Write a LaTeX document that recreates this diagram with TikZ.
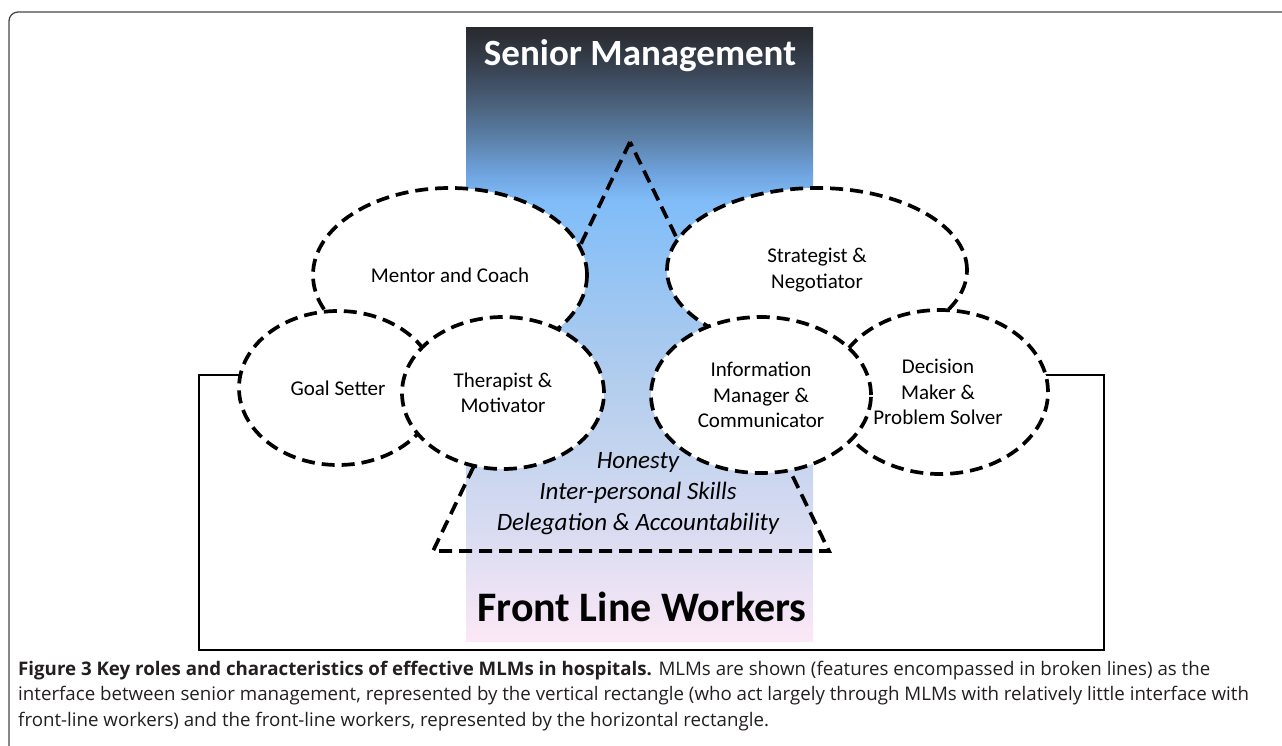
\documentclass[tikz,border=0pt]{standalone}
\usepackage{fontspec}
\setmainfont{Carlito}
\newfontfamily\capfont{Open Sans}
\usetikzlibrary{shapes.geometric}
\definecolor{g0}{RGB}{40,42,46}
\definecolor{g1}{RGB}{55,65,80}
\definecolor{g2}{RGB}{75,98,125}
\definecolor{g3}{RGB}{92,130,170}
\definecolor{g4}{RGB}{112,165,225}
\definecolor{g5}{RGB}{128,188,248}
\definecolor{g6}{RGB}{145,195,245}
\definecolor{g7}{RGB}{170,202,238}
\definecolor{g8}{RGB}{196,212,238}
\definecolor{g9}{RGB}{222,222,242}
\definecolor{g10}{RGB}{252,232,246}
\definecolor{framegray}{RGB}{70,70,70}
\definecolor{captext}{RGB}{35,31,32}
% path bbox maps to 25bp..75bp; y(px) -> 25+50*(641-y)/613
\pgfdeclareverticalshading{smgrad}{100bp}{%
color(0bp)=(g10); color(25bp)=(g10); color(32.42bp)=(g9); color(40.58bp)=(g8);
color(48.74bp)=(g7); color(56.08bp)=(g6); color(60.97bp)=(g5); color(63.01bp)=(g4);
color(65.87bp)=(g3); color(68.72bp)=(g2); color(71.98bp)=(g1); color(75bp)=(g0); color(100bp)=(g0)}
\tikzset{
  dline/.style={draw=black, line width=3.7pt, dash pattern=on 13pt off 7pt},
  role/.style={ellipse, dline, fill=white, inner sep=0pt, align=center,
    font=\fontsize{21}{25.5}\selectfont},
  roletext/.style={align=center, font=\fontsize{21}{25.5}\selectfont},
  quality/.style={align=center, font=\fontsize{25}{31}\selectfont\itshape},
  caption/.style={anchor=base west, inner sep=0pt, text=captext,
    font=\capfont\fontsize{18.7}{21}\selectfont},
}
\begin{document}
\begin{tikzpicture}[x=1pt,y=-1pt]
\useasboundingbox (0,0) rectangle (1282,746);
% outer frame (top-left corner visible)
\draw[framegray, line width=1.3pt, rounded corners=9pt] (9,760) -- (9,12) -- (1290,12);
% horizontal rectangle: front-line workers
\coordinate (hrTL) at (199,375);
\coordinate (hrBR) at (1104,650);
\draw[line width=2.6pt] (hrTL) rectangle (hrBR);
% vertical rectangle: senior management
\shade[shading=smgrad] (466,28) rectangle (813,641);
% triangle
\coordinate (tp) at (630,142);
\coordinate (tl) at (433,551);
\coordinate (tr) at (829,551);
\draw[dline, line join=miter] (tp) -- (tl) -- (tr) -- cycle;
% ellipses
\node[role, minimum width=274pt, minimum height=174pt] (mentor) at (450,275) {Mentor and Coach};
\node[role, minimum width=198pt, minimum height=154pt] (goal) at (338,388) {Goal Setter};
\node[role, minimum width=202pt, minimum height=152pt] (therapist) at (503,393) {Therapist \&\\Motivator};
\node[role, minimum width=300pt, minimum height=164pt] (strategist) at (817,270) {Strategist \&\\Negotiator};
\node[role, minimum width=216pt, minimum height=164pt] (decision) at (940,392) {};
\node[roletext] (decisiontext) at (938,392) {Decision\\Maker \&\\Problem Solver};
\node[role, minimum width=220pt, minimum height=156pt] (info) at (761,395) {Information\\Manager \&\\Communicator};
% qualities
\node[quality] (qual) at (638,494) {Honesty\\Inter-personal Skills\\Delegation \& Accountability};
% titles
\node[text=white, font=\fontsize{37}{40}\selectfont\bfseries] (sm) at (640,56) {Senior Management};
\node[text=black, font=\fontsize{42}{46}\selectfont\bfseries] (flw) at (642,607) {Front Line Workers};
% caption
\node[caption] (cap1) at (18,675) {\textbf{Figure 3 Key roles and characteristics of effective MLMs in hospitals.} MLMs are shown (features encompassed in broken lines) as the};
\node[caption] (cap2) at (18,700.5) {interface between senior management, represented by the vertical rectangle (who act largely through MLMs with relatively little interface with};
\node[caption] (cap3) at (18,726) {front-line workers) and the front-line workers, represented by the horizontal rectangle.};
\end{tikzpicture}
\end{document}
